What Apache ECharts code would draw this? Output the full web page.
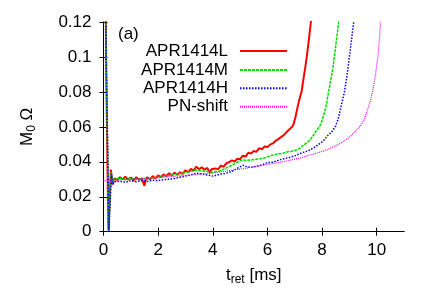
<!DOCTYPE html>
<html>
<head>
<meta charset="utf-8">
<script src="https://cdn.jsdelivr.net/npm/echarts@6/dist/echarts.min.js"></script>
<style>
html,body{margin:0;padding:0;background:#fff;}
#chart{width:436px;height:305px;}
</style>
</head>
<body>
<div id="chart"></div>
<script>
// ---- data ----
const seriesNames = ['APR1414L', 'APR1414M', 'APR1414H', 'PN-shift'];
const xTicks = [0, 2, 4, 6, 8, 10];
const yTicks = [0, 0.02, 0.04, 0.06, 0.08, 0.1, 0.12];

const aprL = [[0,0.30],[0.1,0.09],[0.18,0.001],[0.27,0.0355],[0.33,0.027],[0.4,0.0305],
[0.5,0.0295],[0.6,0.0312],[0.7,0.0300],[0.8,0.0315],[0.9,0.0298],[1.0,0.0310],[1.1,0.0292],[1.2,0.0312],
[1.3,0.0298],[1.4,0.0305],[1.5,0.0262],[1.55,0.0300],[1.6,0.0312],[1.7,0.0298],[1.8,0.0318],[1.9,0.0305],
[2.0,0.0322],[2.1,0.0312],[2.2,0.0328],[2.3,0.0318],[2.4,0.0335],[2.5,0.0322],[2.6,0.0338],[2.7,0.0326],
[2.8,0.0340],[2.9,0.0330],[3.0,0.0352],[3.1,0.0340],[3.2,0.0360],[3.3,0.0350],[3.4,0.0372],[3.5,0.0358],
[3.6,0.0368],[3.7,0.0355],[3.8,0.0365],[3.9,0.0336],[3.95,0.0358],[4.0,0.0350],[4.1,0.0362],[4.2,0.0358],
[4.3,0.0378],[4.4,0.0372],[4.5,0.0392],[4.6,0.0398],[4.7,0.0408],[4.8,0.0402],[4.9,0.0418],[5.0,0.0415],
[5.1,0.0435],[5.2,0.0430],[5.3,0.0452],[5.4,0.0448],[5.5,0.0462],[5.6,0.0458],[5.7,0.0478],[5.8,0.0472],
[5.9,0.0488],[6.0,0.0485],[6.1,0.0498],[6.2,0.0505],[6.3,0.0520],[6.4,0.0530],[6.5,0.0542],[6.6,0.0553],
[6.7,0.0570],[6.8,0.0585],[6.9,0.0600],[6.95,0.0612],[7.02,0.0650],[7.1,0.0710],[7.2,0.0775],[7.25,0.0800],
[7.32,0.0875],[7.4,0.0955],[7.44,0.1000],[7.52,0.1100],[7.59,0.1200],[7.62,0.1250]];

const aprM = [[0,0.30],[0.1,0.095],[0.19,0.0005],[0.28,0.034],[0.34,0.0275],[0.4,0.0300],[0.6,0.0306],
[0.8,0.0298],[1.0,0.0308],[1.2,0.0298],[1.4,0.0306],[1.6,0.0300],[1.8,0.0308],[2.0,0.0310],[2.2,0.0318],
[2.4,0.0322],[2.6,0.0328],[2.8,0.0332],[3.0,0.0338],[3.2,0.0345],[3.4,0.0352],[3.6,0.0348],[3.8,0.0345],
[4.0,0.0340],[4.2,0.0345],[4.4,0.0358],[4.6,0.0372],[4.8,0.0390],[5.0,0.0405],[5.1,0.0412],[5.2,0.0408],
[5.4,0.0410],[5.6,0.0415],[5.85,0.0420],[6.0,0.0428],[6.22,0.0439],[6.4,0.0445],[6.59,0.0450],[6.75,0.0458],
[6.9,0.0460],[7.08,0.0468],[7.2,0.0480],[7.32,0.0496],[7.45,0.0510],[7.56,0.0525],[7.7,0.0555],[7.81,0.0582],
[7.94,0.0610],[8.05,0.0660],[8.15,0.0720],[8.24,0.0800],[8.32,0.0870],[8.40,0.0940],[8.45,0.1000],
[8.53,0.1100],[8.61,0.1200],[8.65,0.1260]];

const aprH = [[0,0.30],[0.1,0.10],[0.2,0.0005],[0.29,0.033],[0.35,0.027],[0.4,0.0285],[0.6,0.0290],
[0.8,0.0283],[1.0,0.0292],[1.2,0.0286],[1.4,0.0292],[1.6,0.0287],[1.8,0.0294],[2.0,0.0292],[2.2,0.0298],
[2.4,0.0300],[2.6,0.0305],[2.8,0.0312],[3.0,0.0318],[3.2,0.0325],[3.4,0.0335],[3.6,0.0330],[3.8,0.0325],
[4.0,0.0318],[4.1,0.0322],[4.3,0.0330],[4.5,0.0335],[4.7,0.0345],[4.9,0.0362],[5.1,0.0380],[5.25,0.0372],
[5.4,0.0368],[5.6,0.0375],[5.8,0.0382],[6.0,0.0395],[6.2,0.0398],[6.4,0.0408],[6.6,0.0418],[6.8,0.0425],
[7.0,0.0434],[7.2,0.0448],[7.4,0.0458],[7.56,0.0468],[7.75,0.0485],[7.93,0.0506],[8.05,0.0520],[8.17,0.0544],
[8.36,0.0572],[8.5,0.0605],[8.6,0.0650],[8.7,0.0720],[8.82,0.0800],[8.92,0.0900],[9.0,0.1000],[9.08,0.1100],
[9.16,0.1200],[9.2,0.1260]];

const pnShift = [[0,0.0292],[1,0.0300],[2,0.0310],[3,0.0322],[4,0.0336],[5,0.0358],[5.4,0.0368],[6,0.0385],
[6.6,0.0401],[7.2,0.0422],[7.8,0.0449],[8.2,0.0470],[8.55,0.0496],[8.8,0.0518],[9.03,0.0544],[9.25,0.0580],
[9.43,0.0610],[9.55,0.0645],[9.67,0.0700],[9.77,0.0750],[9.85,0.0800],[9.95,0.0890],[10.04,0.1000],
[10.1,0.1100],[10.14,0.1200],[10.18,0.1300]];

// ---- styles ----
const FONT = '"Liberation Sans", Arial, Helvetica, sans-serif';
const colors = ['#ff0000', '#00dd00', '#0000ff', '#ff00ff'];
const dashes = ['solid', [3, 1], [1.5, 1.5], [1, 1]];
const widths = [2, 1.5, 1.5, 1.2];
const seriesData = [aprL, aprM, aprH, pnShift];
const legendTops = [42, 61, 79.3, 97.7];

const chart = echarts.init(document.getElementById('chart'), null, {renderer: 'canvas'});

const axisLineStyle = {show: true, lineStyle: {color: '#000', width: 1}};
const tickStyle = (vals) => ({show: true, inside: true, length: 4, lineStyle: {color: '#000', width: 1}, customValues: vals});

const option = {
  animation: false,
  backgroundColor: '#fff',
  textStyle: {fontFamily: FONT},
  title: {
    text: '(a)', left: 118, top: 26, padding: 0,
    textStyle: {fontSize: 17, fontWeight: 'normal', color: '#000', fontFamily: FONT}
  },
  grid: {left: 103.5, right: 32, top: 22, bottom: 73.3, containLabel: false},
  legend: seriesNames.map((n, i) => ({
    data: [n], right: 148, top: legendTops[i], orient: 'horizontal', align: 'right',
    padding: 0, itemWidth: 47, itemHeight: 18, selectedMode: false,
    itemStyle: {color: 'rgba(0,0,0,0)', opacity: 0, borderWidth: 0},
    textStyle: {fontSize: 17, color: '#000', fontFamily: FONT, lineHeight: 18, padding: [0, 7, 0, 0]}
  })),
  xAxis: [{
    type: 'value', min: 0, max: 11, position: 'bottom',
    name: '{a|t}{s|ret}{a| [ms]}', nameLocation: 'middle', nameGap: 33,
    nameTextStyle: {rich: {a: {fontSize: 17, color: '#000', fontFamily: FONT}, s: {fontSize: 12, color: '#000', fontFamily: FONT, verticalAlign: 'bottom', padding: [9, 0, 0, 0]}}},
    axisLine: axisLineStyle, axisTick: tickStyle(xTicks), splitLine: {show: false},
    axisLabel: {customValues: xTicks, margin: 10, fontSize: 17, color: '#000', fontFamily: FONT}
  }, {
    type: 'value', min: 0, max: 11, position: 'top',
    axisLine: axisLineStyle, axisTick: tickStyle(xTicks), splitLine: {show: false},
    axisLabel: {show: false}
  }],
  yAxis: [{
    type: 'value', min: 0, max: 0.12, position: 'left',
    name: '{a|M}{s|0}{a| Ω}', nameLocation: 'middle', nameGap: 66, nameRotate: 90,
    nameTextStyle: {rich: {a: {fontSize: 17, color: '#000', fontFamily: FONT}, s: {fontSize: 12, color: '#000', fontFamily: FONT, verticalAlign: 'bottom', padding: [9, 0, 0, 0]}}},
    axisLine: axisLineStyle, axisTick: tickStyle(yTicks), splitLine: {show: false},
    axisLabel: {customValues: yTicks, margin: 12, fontSize: 17, color: '#000', fontFamily: FONT,
      formatter: v => String(+(+v).toFixed(4))}
  }, {
    type: 'value', min: 0, max: 0.12, position: 'right',
    axisLine: axisLineStyle, axisTick: tickStyle(yTicks), splitLine: {show: false},
    axisLabel: {show: false}
  }],
  series: seriesNames.map((n, i) => ({
    name: n, type: 'line', data: seriesData[i], xAxisIndex: 0, yAxisIndex: 0,
    symbol: 'none', showSymbol: false, clip: true, smooth: false,
    lineStyle: {color: colors[i], width: widths[i], type: dashes[i]},
    itemStyle: {color: colors[i]},
    z: 2 + i
  }))
};
chart.setOption(option);
</script>
</body>
</html>
